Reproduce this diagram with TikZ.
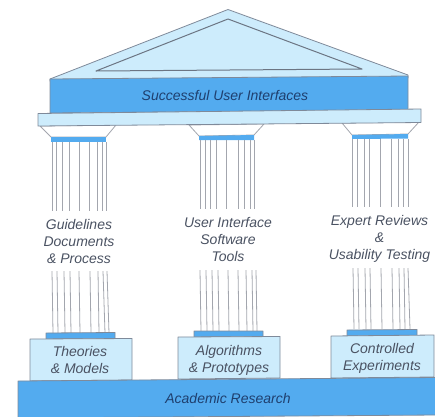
\documentclass[tikz,border=0pt]{standalone}
\usepackage{fontspec}
\setmainfont{Liberation Sans}
\definecolor{pale}{HTML}{CDECFC}
\definecolor{pier}{HTML}{53ABEF}
\definecolor{edge}{HTML}{7F8A9A}
\definecolor{flute}{HTML}{A3A6AE}
\definecolor{ink}{HTML}{4A5262}
\definecolor{inkblue}{HTML}{1F3F6E}
\begin{document}
\begin{tikzpicture}[x=1pt,y=-1pt,
  lightpart/.style={draw=edge,line width=0.8pt,fill=pale,line join=round},
  bluepart/.style={draw=edge,line width=0.8pt,fill=pier,line join=round},
  capital/.style={draw=flute,line width=0.8pt,fill=white,line join=round},
  flute line/.style={draw=flute,line width=0.8pt},
  label text/.style={text=ink,font=\fontsize{14}{17}\selectfont\itshape,align=center,inner sep=0pt},
  beam text/.style={text=inkblue,font=\fontsize{14}{17}\selectfont\itshape,align=center,inner sep=0pt}]
\useasboundingbox (0,0) rectangle (435,416);
% roof
\draw[lightpart] (50,79) -- (228,9.5) -- (408,75) -- (408,78) -- (50,81) -- cycle;
\draw[lightpart,line width=1pt,draw=edge!85!black] (96,71) -- (228,19) -- (362,69) -- cycle;
% beam
\draw[bluepart] (50,79) -- (408,76) -- (408,110) -- (50,113) -- cycle;
% capitals
\draw[capital] (40,126) -- (116,125) -- (106,137) -- (51,137) -- cycle;
\draw[capital] (189,125) -- (264,124) -- (254,135) -- (199,136) -- cycle;
\draw[capital] (342,123) -- (419,122) -- (408,134) -- (352,135) -- cycle;
% entablature
\draw[lightpart] (38,113.5) -- (421,109) -- (421,122.5) -- (38,126) -- cycle;
% upper bands
\fill[pier] (51,137) -- (106,137) -- (106,142) -- (51,142) -- cycle;
\fill[pier] (199,136) -- (254,135) -- (254,140) -- (199,140) -- cycle;
\fill[pier] (352,135) -- (408,134) -- (408,138.5) -- (352,139) -- cycle;
% upper flutes
\foreach \x in {52,56,62,69,79,89,97,102,106} \draw[flute line] (\x,142) -- (\x,211);
\foreach \x in {200,205,210,216,226,238,244,250,254} \draw[flute line] (\x,140) -- (\x,209);
\foreach \x in {352,357,364,369,380,391,398,403,408} \draw[flute line] (\x,139) -- (\x,207);
% lower flutes
\foreach \x/\y in {52/53,57/58,64/65,70/71,79/80,90/91,98/99,103/105,107/109} \draw[flute line] (\x,271) -- (\y,333);
\foreach \x/\y in {200/201,206/207,212/213,218/219,228/229,238/239,246/247,252/253,256/257} \draw[flute line] (\x,270) -- (\y,331);
\foreach \x/\y in {353/354,358/359,365/366,370/371,381/382,392/393,399/400,404/405,408/410} \draw[flute line] (\x,268) -- (\y,329);
% lower bands
\draw[bluepart] (46,333) -- (115,332.5) -- (115,338.5) -- (46,339) -- cycle;
\draw[bluepart] (194,331) -- (263,331) -- (263,336.5) -- (194,337) -- cycle;
\draw[bluepart] (347,330) -- (417,329.5) -- (417,335.5) -- (347,336) -- cycle;
% bases
\draw[lightpart] (30,339) -- (132,338.5) -- (132,380) -- (30,381) -- cycle;
\draw[lightpart] (178,337) -- (280,336.5) -- (280,378) -- (178,379) -- cycle;
\draw[lightpart] (331,336) -- (434,335) -- (434,377) -- (331,378) -- cycle;
% ground
\draw[bluepart] (18,381) -- (436,377.5) -- (436,415) -- (18,418) -- cycle;
% texts
\node[beam text] (roofname) at (225,95.5) {Successful User Interfaces};
\node[beam text] (groundname) at (228,398) {Academic Research};
\node[label text] (col1) at (79,241) {Guidelines\\Documents\\\& Process};
\node[label text] (col2) at (228,239.5) {User Interface\\Software\\Tools};
\node[label text] (col3) at (379.5,239) {Expert Reviews\\\&\\Usability Testing};
\node[label text] (base1) at (80,360) {Theories\\\& Models};
\node[label text] (base2) at (229,360) {Algorithms\\\& Prototypes};
\node[label text] (base3) at (382,358) {Controlled\\Experiments};
\end{tikzpicture}
\end{document}
